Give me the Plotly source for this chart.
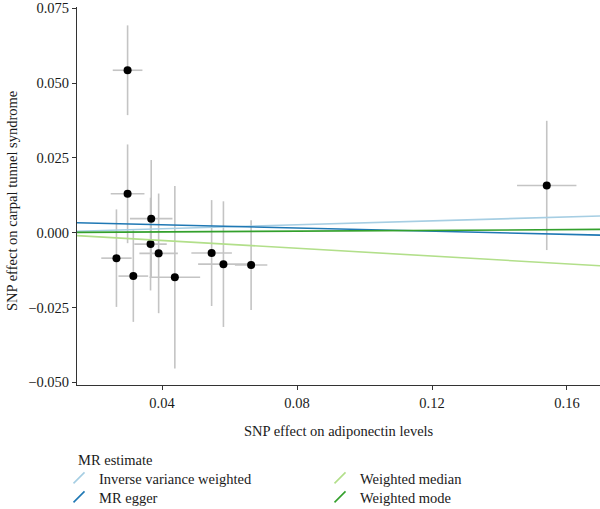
import plotly.graph_objects as go

# ---- data ----
snp_exposure = [0.0298, 0.0298, 0.0368, 0.0366, 0.0390, 0.0265, 0.0315, 0.0438, 0.0547, 0.0582, 0.0664, 0.1540]
snp_outcome = [0.0543, 0.0130, 0.0047, -0.0038, -0.0069, -0.0085, -0.0145, -0.0149, -0.0068, -0.0105, -0.0108, 0.0158]
se_exposure = [0.0044, 0.0050, 0.0063, 0.0048, 0.0057, 0.0045, 0.0044, 0.0075, 0.0060, 0.0075, 0.0048, 0.0088]
se_outcome = [0.0150, 0.0165, 0.0196, 0.0155, 0.0200, 0.0163, 0.0153, 0.0305, 0.0177, 0.0210, 0.0150, 0.0216]

methods = ["Inverse variance weighted", "MR egger", "Weighted median", "Weighted mode"]
intercepts = [0.0, 0.0037, 0.0, 0.0]
slopes = [0.033, -0.0265, -0.065, 0.0065]
colors = ["#a6cee3", "#1f78b4", "#b2df8a", "#33a02c"]

x_ticks = [0.04, 0.08, 0.12, 0.16]
y_ticks = [0.075, 0.050, 0.025, 0.000, -0.025, -0.050]
x_range = [0.01481, 0.16978]
y_range = [-0.0509, 0.07544]

FONT = "Liberation Serif"
FS = 14.5
TXT = "#1a1a1a"
W, H = 600, 509
ML, MR_, MT, MB = 77, 0, 7, 124
pw, ph = W - ML - MR_, H - MT - MB


def px_to_paper(px, py):
    return (px - ML) / pw, (H - MB - py) / ph


fig = go.Figure()

# error bars + points
fig.add_trace(go.Scatter(
    x=snp_exposure, y=snp_outcome, mode="markers",
    marker=dict(color="black", size=8),
    error_x=dict(type="data", array=se_exposure, color="#c4c4c4", thickness=1.6, width=0),
    error_y=dict(type="data", array=se_outcome, color="#c4c4c4", thickness=1.6, width=0),
    showlegend=False, hoverinfo="skip",
))

# MR estimate lines
for name, a, b, c in zip(methods, intercepts, slopes, colors):
    xs = list(x_range)
    ys = [a + b * v for v in xs]
    fig.add_trace(go.Scatter(x=xs, y=ys, mode="lines", line=dict(color=c, width=1.6),
                             showlegend=False, hoverinfo="skip"))

# legend keys (one legend per entry, laid out in 2 columns like ggplot)
legend_pos = [(59, 478), (59, 497), (320, 478), (320, 497)]
legend_names = ["legend", "legend2", "legend3", "legend4"]
for name, c, lg, (lx, ly) in zip(methods, colors, legend_names, legend_pos):
    fig.add_trace(go.Scatter(
        x=[None], y=[None], mode="markers", name=name, legend=lg,
        marker=dict(symbol="line-ne", size=11, line=dict(color=c, width=1.6), color=c),
    ))
    px_, py_ = px_to_paper(lx, ly)
    fig.update_layout(**{lg: dict(x=px_, y=py_, xanchor="left", yanchor="middle",
                                  xref="paper", yref="paper",
                                  bgcolor="rgba(0,0,0,0)", borderwidth=0,
                                  font=dict(family=FONT, size=FS, color=TXT),
                                  itemsizing="trace")})

axis_common = dict(showline=True, linecolor="#333333", linewidth=1, ticks="outside",
                   ticklen=4, tickcolor="#333333", tickwidth=1, showgrid=False, zeroline=False,
                   tickfont=dict(family=FONT, size=FS, color=TXT))

fig.update_xaxes(range=x_range, tickvals=x_ticks, tickformat=".2f", ticklabelstandoff=1, **axis_common)
fig.update_yaxes(range=y_range, tickvals=y_ticks, tickformat=".3f", **axis_common)

ann = []
tx, ty = px_to_paper(338.5, 431)
ann.append(dict(text="SNP effect on adiponectin levels", x=tx, y=ty, xref="paper", yref="paper",
                showarrow=False, xanchor="center", yanchor="middle",
                font=dict(family=FONT, size=FS, color=TXT)))
tx, ty = px_to_paper(12, 201)
ann.append(dict(text="SNP effect on carpal tunnel syndrome", x=tx, y=ty, xref="paper", yref="paper",
                showarrow=False, xanchor="center", yanchor="middle", textangle=-90,
                font=dict(family=FONT, size=FS, color=TXT)))
tx, ty = px_to_paper(76, 460)
ann.append(dict(text="MR estimate", x=tx, y=ty, xref="paper", yref="paper",
                showarrow=False, xanchor="left", yanchor="middle",
                font=dict(family=FONT, size=FS, color=TXT)))

fig.update_layout(
    width=W, height=H,
    margin=dict(l=ML, r=MR_, t=MT, b=MB, pad=0, autoexpand=False),
    plot_bgcolor="white", paper_bgcolor="white",
    font=dict(family=FONT, size=FS, color=TXT),
    annotations=ann,
)

fig.write_html("out.html")
